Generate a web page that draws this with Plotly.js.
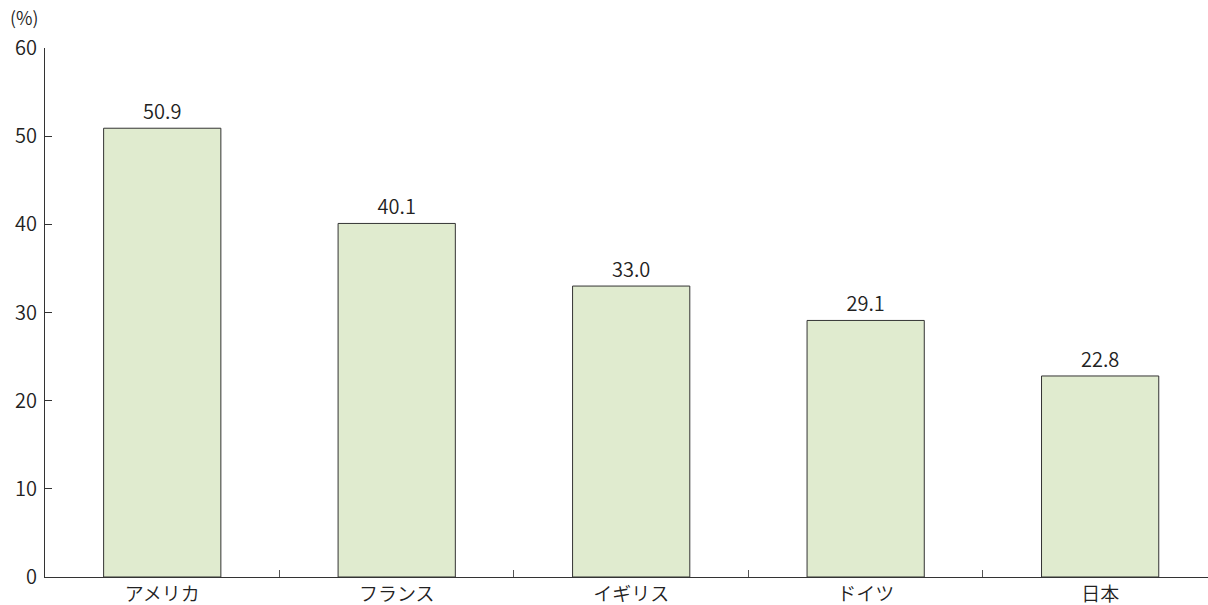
<!DOCTYPE html>
<html><head><meta charset="utf-8">
<script src="https://cdn.plot.ly/plotly-3.0.1.min.js"></script>
<style>html,body{margin:0;padding:0;background:#fff;}#chart{width:1208px;height:605px;}</style>
</head><body><div id="chart"></div>
<script>
const categories = ["アメリカ", "フランス", "イギリス", "ドイツ", "日本"];
const values = [50.9, 40.1, 33.0, 29.1, 22.8];
const yTicks = [0, 10, 20, 30, 40, 50, 60];
const unitLabel = "(%)";

const font = "'Noto Sans CJK JP', 'Noto Sans', sans-serif";
const trace = {
  type: "bar",
  x: categories,
  y: values,
  text: values.map(v => v.toFixed(1)),
  textposition: "outside",
  cliponaxis: false,
  textfont: {family: font, size: 20, color: "#222", weight: 350},
  marker: {color: "#e0ebcf", line: {color: "#333", width: 1}},
  hoverinfo: "none"
};
const layout = {
  width: 1208, height: 605,
  margin: {l: 45, r: 0, t: 48, b: 28},
  paper_bgcolor: "#fff", plot_bgcolor: "#fff",
  bargap: 0.5,
  showlegend: false,
  font: {family: font, size: 20, color: "#222", weight: 350},
  xaxis: {
    type: "category",
    range: [-0.5, 4.46],
    tickson: "boundaries",
    ticks: "inside", ticklen: 7, tickcolor: "#555", tickwidth: 1,
    showline: true, linecolor: "#333", linewidth: 1,
    showgrid: false, zeroline: false,
    tickfont: {family: font, size: 19, color: "#222", weight: 350},
    fixedrange: true
  },
  yaxis: {
    range: [0, 60],
    tickvals: yTicks,
    ticks: "inside", ticklen: 7, tickcolor: "#333", tickwidth: 1,
    showline: true, linecolor: "#333", linewidth: 1,
    showgrid: false, zeroline: false,
    ticklabelstandoff: 3,
    tickfont: {family: font, size: 20, color: "#222", weight: 350},
    fixedrange: true
  },
  annotations: [{
    text: unitLabel, xref: "paper", yref: "paper",
    x: -0.032, y: 1.0, yshift: 31, xanchor: "left", yanchor: "middle",
    showarrow: false, font: {family: font, size: 18, color: "#222", weight: 350}
  }]
};
Plotly.newPlot("chart", [trace], layout, {staticPlot: true, displayModeBar: false});
</script>
</body></html>
